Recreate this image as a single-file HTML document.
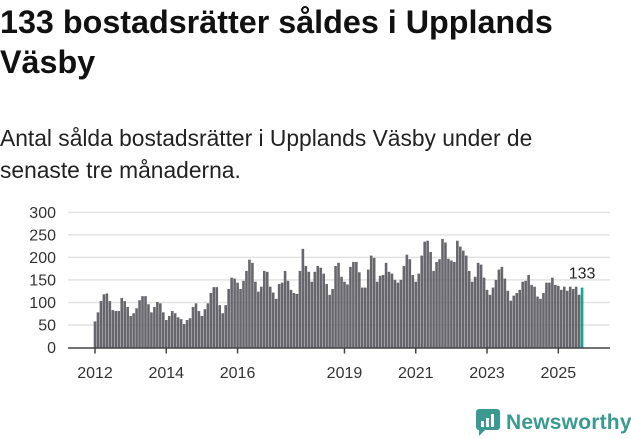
<!DOCTYPE html>
<html><head><meta charset="utf-8"><style>
body{margin:0;width:631px;height:439px;background:#fff;font-family:"Liberation Sans",sans-serif;overflow:hidden;position:relative}
h1{position:absolute;left:0;top:2px;margin:0;font-size:32.3px;line-height:40px;font-weight:bold;color:#111;width:600px}
p{position:absolute;left:0;top:122px;margin:0;font-size:22.8px;line-height:32px;color:#222;width:580px}
svg{position:absolute;left:0;top:0}
</style></head><body>
<h1>133 bostadsrätter såldes i Upplands Väsby</h1>
<p>Antal sålda bostadsrätter i Upplands Väsby under de senaste tre månaderna.</p>
<svg id="chart" width="631" height="439"></svg>
<div style="position:absolute;left:476px;top:409px;display:flex;align-items:center">
<svg width="24" height="28" style="position:static"><rect x="0" y="0" width="24" height="21" rx="3" fill="#3a9a92"/><polygon points="3,21 9,21 3,27" fill="#3a9a92"/><rect x="5" y="12" width="3" height="6" fill="#fff"/><rect x="10" y="9" width="3" height="9" fill="#fff"/><rect x="15" y="5" width="3" height="13" fill="#fff"/></svg>
<span style="font-size:21px;color:#3a9a92;margin-left:6px;font-weight:bold;letter-spacing:0.2px">Newsworthy</span></div>
<script>
const values=[58,78,103,118,120,103,83,81,81,110,103,90,
70,76,87,105,114,114,96,78,90,101,98,78,
61,70,81,76,67,63,52,61,65,90,98,81,
70,85,98,121,134,134,94,76,94,130,155,153,
144,130,148,170,195,188,146,124,135,170,168,135,
122,108,141,144,170,148,128,121,119,170,219,181,
168,146,168,181,177,164,141,117,130,181,188,157,
146,140,179,190,190,167,133,133,173,204,199,146,
159,161,188,168,164,150,144,150,181,206,196,161,
146,164,204,235,237,212,170,190,196,241,233,197,
193,190,237,224,215,204,170,146,157,188,184,155,
128,117,133,150,173,179,153,126,104,115,121,128,
146,148,161,139,135,113,108,121,144,144,155,139,
137,128,135,126,135,130,135,117,133];
const yTicks=[0,50,100,150,200,250,300];
const xTickYears=[2012,2014,2016,2019,2021,2023,2025];
const startYear=2012;
const NS="http://www.w3.org/2000/svg";
const svg=document.getElementById('chart');
const y0=347.5,yScale=0.4505,x0=95,step=2.97;
const y=v=>y0-v*yScale;
const x=i=>x0+i*step;
function mk(t,a){const e=document.createElementNS(NS,t);for(const k in a)e.setAttribute(k,a[k]);svg.appendChild(e);return e;}
yTicks.forEach(t=>{
 if(t>0){const g=mk('line',{x1:68,x2:610,y1:y(t),y2:y(t),stroke:'#e2e2e2','stroke-width':1.5});
 
 }
 const l=mk('text',{x:56,y:y(t)+5.5,'text-anchor':'end','font-size':16,fill:'#333','font-family':'Liberation Sans, sans-serif'});
 l.textContent=t;
 
 
});
values.forEach((v,i)=>{
 const last=i===values.length-1;
 const r=mk('rect',{x:x(i)-1.3,y:y(v),width:2.6,height:v*yScale,fill:last?'#16a394':'#67666c'});
 
 
});
const ax=mk('line',{x1:68,x2:610,y1:y0+0.5,y2:y0+0.5,stroke:'#444','stroke-width':1.5});


xTickYears.forEach(yr=>{
 const xx=x((yr-startYear)*12);
 const t=mk('line',{x1:xx,x2:xx,y1:y0,y2:y0+6,stroke:'#444','stroke-width':1.5});
 
 
 const l=mk('text',{x:xx,y:378,'text-anchor':'middle','font-size':16,fill:'#333','font-family':'Liberation Sans, sans-serif'});
 l.textContent=yr;
 
 
});
const li=values.length-1;
const vl=mk('text',{x:x(li),y:y(values[li])-9,'text-anchor':'middle','font-size':16,fill:'#222','font-family':'Liberation Sans, sans-serif'});
vl.textContent=values[li];


</script>
</body></html>
